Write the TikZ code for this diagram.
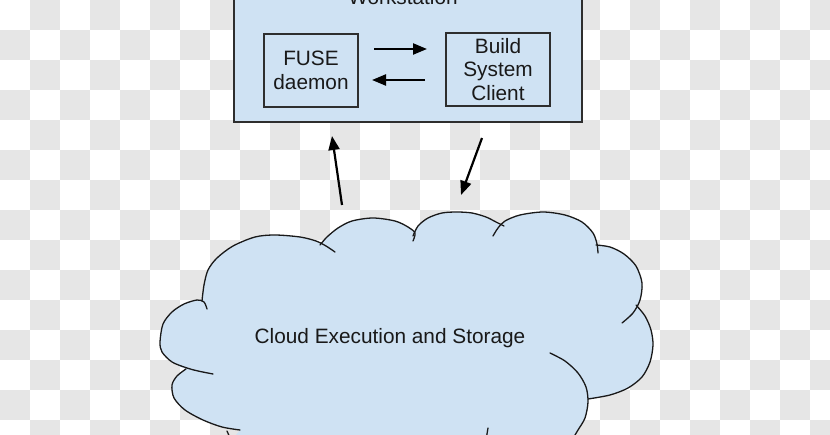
\documentclass[tikz,border=0pt]{standalone}
\usepackage{fontspec}
\setmainfont{Liberation Sans}
\usetikzlibrary{arrows.meta}
\definecolor{lblue}{HTML}{CFE2F3}
\definecolor{chk}{HTML}{E6E6E6}
\definecolor{edge}{HTML}{2E2E2E}
\begin{document}
\begin{tikzpicture}[x=1pt,y=-1pt,
  box/.style={draw=edge,line width=1.3pt,fill=lblue,inner sep=0pt},
  lbl/.style={font=\fontsize{20.8}{23.5}\selectfont,align=center,text=black!90},
  arr/.style={line width=2.2pt,draw=black,-{Triangle[length=14pt,width=11pt]}},
  cloudline/.style={line width=1.3pt,draw=black!90,line cap=round},
  cloudfill/.style={fill=lblue}]
\useasboundingbox (0,0) rectangle (830,435);
% checkerboard background
\fill[white] (0,0) rectangle (830,435);
\foreach \i in {0,...,27}{
  \foreach \j in {0,...,14}{
    \pgfmathtruncatemacro\p{mod(\i+\j,2)}
    \ifnum\p=1 \fill[chk] (\i*30,\j*30) rectangle ++(30,30); \fi
  }
}
% workstation
\node[box, minimum width=348pt, minimum height=182pt] (ws) at (408,31) {};
\node[lbl, anchor=base] (wst) at (403,5) {Workstation};
\node[box, lbl, minimum width=94pt, minimum height=73pt] (fuse) at (311,70.5) {FUSE\\daemon};
\node[box, lbl, minimum width=104pt, minimum height=73pt] (bsc) at (498,69.5) {Build\\System\\Client};
\coordinate (a1s) at (374,49);
\coordinate (a1e) at (427,49);
\coordinate (a2s) at (425,80);
\coordinate (a2e) at (372,80);
\draw[arr] (a1s) -- (a1e);
\draw[arr] (a2s) -- (a2e);
% cloud fill
\coordinate (cc) at (400,330);
\def\SA{(240,430) (222,427) (203,420) (185,410) (174,398) (172,385) (177,376) (186,369)}
\def\SB{(213,374) (198,371) (187,368) (172,362) (162,352) (160,342) (163,324) (172,312) (184,304) (197,300) (204,302) (207,309)}
\def\SC{(202,301) (204,285) (208,270) (217,258) (233,246) (255,237) (275,235) (300,237) (316,241) (326,246) (335,252)}
\def\SD{(320,245) (327,237) (338,228) (352,221) (373,218) (395,221) (408,227) (415,233) (413,241)}
\def\SE{(413,236) (418,226) (428,218) (442,213) (457,212) (472,213) (486,217) (496,222) (504,226)}
\def\SF{(493,236) (498,228) (505,221) (520,215) (543,212) (565,215) (582,222) (593,233) (597,244) (598,253)}
\def\SG{(596,245) (610,247) (624,254) (636,266) (642,283) (640,300) (633,313) (622,323)}
\def\SH{(636,305) (645,316) (651,330) (653,345) (650,362) (642,377) (628,388) (610,395) (588,399)}
\def\SI{(550,353) (565,361) (578,373) (586,387) (588,402) (585,418) (578,430) (572,440)}
\fill[cloudfill] (240,430) -- (186,369) -- (178,366) -- (200,301) -- (322,245) -- (414,234) -- (500,226) -- (597,246) -- (637,305) -- (588,399) -- (572,440) -- (580,445) -- (228,445) -- cycle;
\foreach \S in {\SA,\SB,\SC,\SD,\SE,\SF,\SG,\SH,\SI}{
  \fill[cloudfill] plot[smooth] coordinates {\S} -- (cc) -- cycle;
}
\foreach \S in {\SA,\SB,\SC,\SD,\SE,\SF,\SG,\SH,\SI}{
  \draw[cloudline] plot[smooth] coordinates {\S};
}
\draw[cloudline] (488,428) -- (486,440);
\draw[cloudline] (227,431) -- (231,440);
\node[lbl] (cloud) at (390,338) {Cloud Execution and Storage};
% vertical arrows
\coordinate (v1s) at (342,205);
\coordinate (v1e) at (332,136);
\coordinate (v2s) at (482,138);
\coordinate (v2e) at (461,195);
\draw[arr] (v1s) -- (v1e);
\draw[arr] (v2s) -- (v2e);
\end{tikzpicture}
\end{document}
